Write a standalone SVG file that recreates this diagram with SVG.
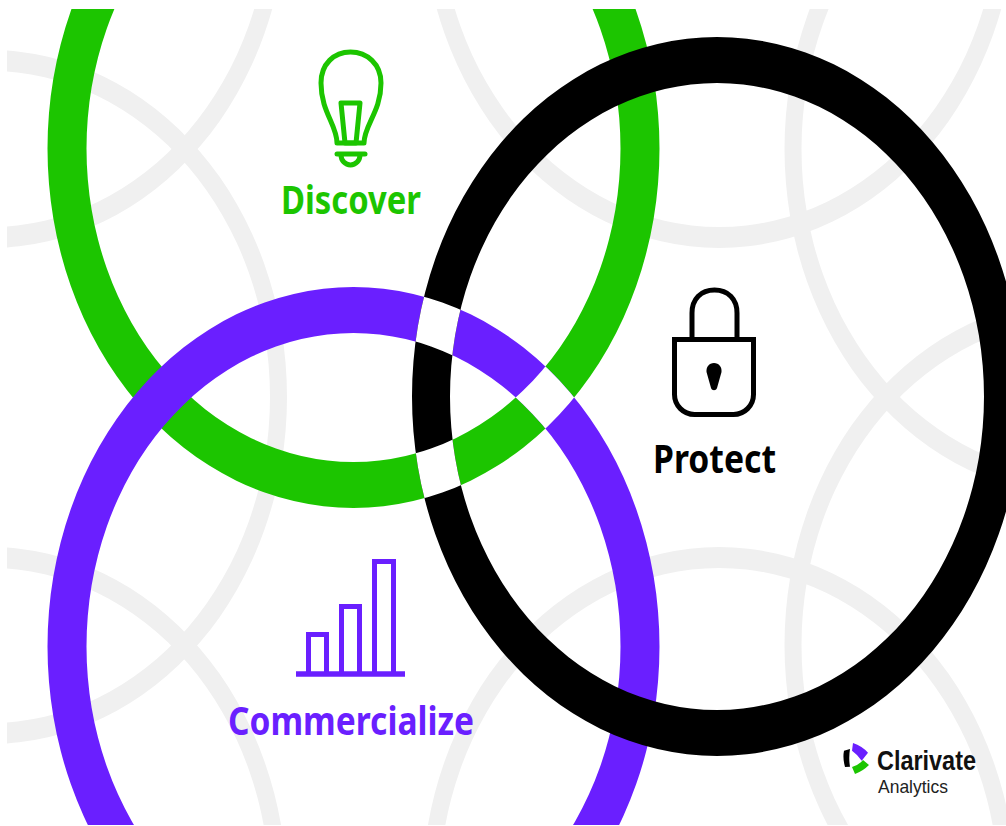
<svg xmlns="http://www.w3.org/2000/svg" width="1006" height="826" viewBox="0 0 1006 826">
<style>
.bg{fill:#f0f0f0;fill-rule:evenodd}
.ring{fill-rule:evenodd}
.gap{fill:#fff;fill-rule:evenodd}
.icon{fill:none;stroke-width:5}
.t{font-family:"Noto Sans","Open Sans",sans-serif;font-weight:700;font-size:40px}
</style>
<defs>
<path id="grayBand" d="M-297 0a297 347 0 1 0 594 0a297 347 0 1 0 -594 0ZM-280 0a280 326 0 1 0 560 0a280 326 0 1 0 -560 0Z"/>
<path id="band" d="M-306 0a306 359.500 0 1 0 612 0a306 359.500 0 1 0 -612 0ZM-267 0a267 313.500 0 1 0 534 0a267 313.500 0 1 0 -534 0Z"/>
<clipPath id="page"><rect x="7" y="9" width="999" height="816"/></clipPath>
<clipPath id="blackBand"><path clip-rule="evenodd" transform="translate(717 396.500)" d="M-305 0a305 359.500 0 1 0 610 0a305 359.500 0 1 0 -610 0ZM-267 0a267 313.500 0 1 0 534 0a267 313.500 0 1 0 -534 0Z"/></clipPath>
<clipPath id="purpleBand"><path clip-rule="evenodd" transform="translate(353.500 646.500)" d="M-306 0a306 359.500 0 1 0 612 0a306 359.500 0 1 0 -612 0ZM-267 0a267 313.500 0 1 0 534 0a267 313.500 0 1 0 -534 0Z"/></clipPath>
<clipPath id="topGap"><rect x="400" y="275" width="80" height="95"/></clipPath>
<clipPath id="bottomGap"><rect x="400" y="425" width="80" height="90"/></clipPath>
<clipPath id="rightGap"><rect x="505" y="350" width="85" height="95"/></clipPath>
</defs>
<rect width="1006" height="826" fill="#fff"/>
<g id="background" clip-path="url(#page)">
<use href="#grayBand" class="bg" transform="translate(-10 -99)"/>
<use href="#grayBand" class="bg" transform="translate(-10 397)"/>
<use href="#grayBand" class="bg" transform="translate(-10 894)"/>
<use href="#grayBand" class="bg" transform="translate(719 -99)"/>
<use href="#grayBand" class="bg" transform="translate(719 894)"/>
<use href="#grayBand" class="bg" transform="translate(1081.500 149)"/>
<use href="#grayBand" class="bg" transform="translate(1081.500 645)"/>
</g>
<g id="connectors" clip-path="url(#page)">
<use id="ring-discover" href="#band" class="ring" fill="#1cc500" transform="translate(353.500 148.500)"/>
<use id="ring-commercialize" href="#band" class="ring" fill="#6a1fff" transform="translate(353.500 646.500)"/>
<path id="ring-protect" class="ring" fill="#000" transform="translate(717 396.500)" d="M-305 0a305 359.500 0 1 0 610 0a305 359.500 0 1 0 -610 0ZM-267 0a267 313.500 0 1 0 534 0a267 313.500 0 1 0 -534 0Z"/>
<g clip-path="url(#topGap)"><g clip-path="url(#blackBand)"><use href="#band" class="gap" transform="translate(353.500 646.500)"/></g></g>
<g clip-path="url(#bottomGap)"><g clip-path="url(#blackBand)"><use href="#band" class="gap" transform="translate(353.500 148.500)"/></g></g>
<g clip-path="url(#rightGap)"><g clip-path="url(#purpleBand)"><use href="#band" class="gap" transform="translate(353.500 148.500)"/></g></g>
</g>
<g id="discover">
<g class="icon" stroke="#1cc500" stroke-linecap="round" stroke-linejoin="round">
<path d="M337 143C337 125 321 112 321 83C321 64 334 52 350.500 52C367 52 381 64 381 83C381 112 364 125 364 143Z"/>
<path d="M341 103H360L356 143H345Z"/>
<path d="M337 154H365"/>
<path d="M341 155A9.500 10 0 0 0 360 155"/>
</g>
<text class="t" x="281" y="214" fill="#1cc500" textLength="140" lengthAdjust="spacingAndGlyphs">Discover</text>
</g>
<g id="protect">
<g class="icon" stroke="#000">
<path d="M692 338V313C692 299 701 290 714.500 290C728 290 737 299 737 313V338"/>
<path d="M674.500 339.500H753.500V394.500A20 20 0 0 1 733.500 414.500H694.500A20 20 0 0 1 674.500 394.500Z"/>
</g>
<path d="M714 363C719 363 722 367 721.500 372L717 388C716 391 712 391 711 388L706.500 372C706 367 709 363 714 363Z" fill="#000"/>
<text class="t" x="653" y="473" fill="#000" textLength="123" lengthAdjust="spacingAndGlyphs">Protect</text>
</g>
<g id="commercialize">
<g class="icon" stroke="#6a1fff">
<path d="M308.500 674V634.500H326.500V674"/>
<path d="M341.500 674V606.500H359.500V674"/>
<path d="M374.500 674V561.500H393.500V674"/>
<path d="M296 674H405" stroke-width="5.500"/>
</g>
<text class="t" x="228" y="735" fill="#6a1fff" textLength="246" lengthAdjust="spacingAndGlyphs">Commercialize</text>
</g>
<g id="logo">
<path d="M853 743Q862 746 868 752.700L861.700 760.700Q858 755 852 750.700Z" fill="#6a1fff"/>
<path d="M869 765Q863 771 855 774L852 767Q859 765 863 760Z" fill="#1cc500"/>
<path d="M844 750.700L850 749Q848.500 758 850 766.700L845 767Q842.500 758 844 750.700Z" fill="#000"/>
<text x="877" y="770" font-family="Liberation Sans,sans-serif" font-weight="700" font-size="27" fill="#111" textLength="99" lengthAdjust="spacingAndGlyphs">Clarivate</text>
<text x="878" y="793" font-family="Liberation Sans,sans-serif" font-size="19" fill="#222" textLength="70" lengthAdjust="spacingAndGlyphs">Analytics</text>
</g>
</svg>
